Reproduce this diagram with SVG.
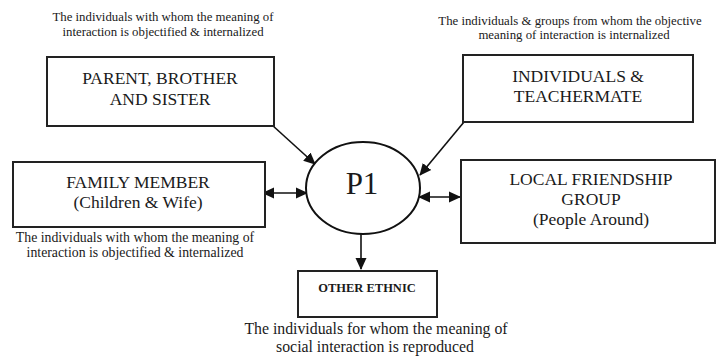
<svg xmlns="http://www.w3.org/2000/svg" width="716" height="359" viewBox="0 0 716 359">
  <defs>
    <marker id="head" markerUnits="userSpaceOnUse" markerWidth="12" markerHeight="12" viewBox="0 0 12 12" refX="11" refY="6" orient="auto-start-reverse">
      <path d="M0,0.5 L12,6 L0,11.5 Z" fill="#111"/>
    </marker>
  </defs>
  <style>
    .box { fill: #fff; stroke: #222; stroke-width: 2; }
    .ell { fill: #fff; stroke: #111; stroke-width: 2; }
    .lbl { font-family: "Liberation Serif", "Times New Roman", serif; fill: #1a1a1a; text-anchor: middle; }
    .big { font-size: 17.5px; }
    .cap { font-size: 12.8px; }
    .conn { stroke: #111; stroke-width: 1.6; fill: none; }
  </style>
  <rect width="716" height="359" fill="#fff"/>

  <!-- connectors -->
  <g id="connectors">
    <line class="conn" x1="272" y1="125" x2="315" y2="164" marker-end="url(#head)"/>
    <line class="conn" x1="464" y1="122" x2="420" y2="175" marker-end="url(#head)"/>
    <line class="conn" x1="263" y1="193" x2="307" y2="193" marker-start="url(#head)" marker-end="url(#head)"/>
    <line class="conn" x1="419" y1="197" x2="460" y2="197" marker-start="url(#head)" marker-end="url(#head)"/>
    <line class="conn" x1="361" y1="234" x2="361" y2="269" marker-end="url(#head)"/>
  </g>

  <!-- upper-left node -->
  <g id="parent">
    <text class="lbl cap" x="163" y="21">The individuals with whom the meaning of</text>
    <text class="lbl cap" x="163" y="35.5">interaction is objectified &amp; internalized</text>
    <rect class="box" x="47" y="57" width="227" height="69"/>
    <text class="lbl big" x="160" y="84">PARENT, BROTHER</text>
    <text class="lbl big" x="160" y="105">AND SISTER</text>
  </g>

  <!-- upper-right node -->
  <g id="teachermate">
    <text class="lbl cap" x="570" y="25">The individuals &amp; groups from whom the objective</text>
    <text class="lbl cap" x="574" y="39">meaning of interaction is internalized</text>
    <rect class="box" x="463" y="55" width="230" height="67"/>
    <text class="lbl big" x="578" y="82">INDIVIDUALS &amp;</text>
    <text class="lbl big" x="578" y="102">TEACHERMATE</text>
  </g>

  <!-- left node -->
  <g id="family">
    <rect class="box" x="13" y="162" width="252" height="65"/>
    <text class="lbl big" x="138" y="188">FAMILY MEMBER</text>
    <text class="lbl big" x="138" y="208">(Children &amp; Wife)</text>
    <text class="lbl" font-size="13.8" x="135" y="242">The individuals with whom the meaning of</text>
    <text class="lbl" font-size="13.8" x="135" y="257">interaction is objectified &amp; internalized</text>
  </g>

  <!-- centre node -->
  <g id="p1">
    <ellipse class="ell" cx="363" cy="188" rx="57" ry="46"/>
    <text class="lbl" font-size="31" x="362" y="194">P1</text>
  </g>

  <!-- right node -->
  <g id="friendship">
    <rect class="box" x="461" y="160" width="254" height="83"/>
    <text class="lbl big" x="591" y="185">LOCAL FRIENDSHIP</text>
    <text class="lbl big" x="591" y="205">GROUP</text>
    <text class="lbl big" x="591" y="225">(People Around)</text>
  </g>

  <!-- bottom node -->
  <g id="other-ethnic">
    <rect class="box" x="298" y="271" width="139" height="46"/>
    <text class="lbl" font-size="12.5" font-weight="bold" x="367" y="292">OTHER ETHNIC</text>
    <text class="lbl" font-size="15.8" x="376" y="334">The individuals for whom the meaning of</text>
    <text class="lbl" font-size="15.8" x="375" y="352">social interaction is reproduced</text>
  </g>
</svg>
